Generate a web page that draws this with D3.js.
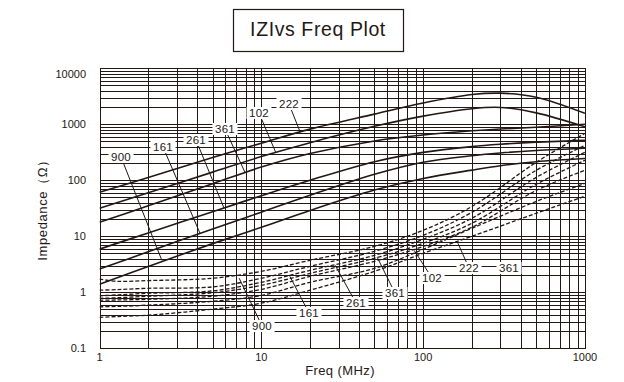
<!DOCTYPE html>
<html>
<head>
<meta charset="utf-8">
<script src="https://cdn.jsdelivr.net/npm/d3@7"></script>
<style>
  html, body { margin: 0; padding: 0; background: #fff; }
  svg { display: block; font-family: "Liberation Sans", Arial, Helvetica, sans-serif; }
</style>
</head>
<body>
<svg id="chart" width="624" height="382"></svg>
<script>
// ---- data: |Z| in ohms against frequency in MHz ----
const freqSolid = [1, 2, 5, 10, 20, 50, 100, 200, 300, 500, 1000];
const solid900 = [1.39, 2.9, 7.4, 14.5, 29, 67, 108, 152, 182, 215, 245];
const solid161 = [2.6, 5.3, 13.5, 27, 54, 128, 210, 275, 308, 340, 373];
const solid261 = [5.9, 11.5, 27.5, 53, 100, 215, 315, 400, 440, 480, 516];
const solid361 = [17.8, 35, 87, 172, 300, 505, 645, 765, 825, 885, 1000];
const solid102 = [31.6, 60, 140, 265, 470, 920, 1400, 1900, 2000, 1600, 900];
const solid222 = [61, 112, 255, 460, 820, 1520, 2400, 3400, 3600, 3050, 1570];

const freqDashed = [1, 1.3, 2, 5, 10, 20, 50, 100, 200, 500, 1000];
const dashA = [1.72, 1.57, 1.62, 1.78, 2.37, 3.73, 6.6, 12.8, 34, 210, 690];
const dashB = [1.09, 1.12, 1.18, 1.25, 1.78, 2.91, 5.4, 10.4, 26.8, 151, 422];
const dashC = [0.866, 0.9, 0.96, 1.06, 1.51, 2.47, 4.58, 8.84, 21, 113, 316];
const dashD = [0.78, 0.8, 0.85, 0.98, 1.33, 2.18, 4.05, 7.5, 17.1, 85, 228];
const dashE = [0.72, 0.73, 0.75, 0.85, 1.13, 1.93, 3.58, 6.6, 14.5, 66, 151];
const dashF = [0.55, 0.56, 0.59, 0.69, 0.88, 1.51, 2.68, 5.86, 13.9, 42, 88];
const dashG = [0.358, 0.37, 0.39, 0.50, 0.64, 1.09, 2.37, 4.97, 10, 25.8, 52];

const solidSeries = [solid900, solid161, solid261, solid361, solid102, solid222];
const dashedSeries = [dashA, dashB, dashC, dashD, dashE, dashF, dashG];

// part-number callouts: text and the [MHz, ohm] point each leader touches
const solidLabels = ["900", "161", "261", "361", "102", "222"];
const solidTargets = [[2.43, 3.7], [4.18, 11.3], [5.88, 32], [7.93, 138], [12.3, 310], [17.4, 720]];
const dashedLabels = ["900", "161", "261", "361", "102", "222", "361"];
const dashedTargets = [[7.3, 1.78], [15, 1.93], [28.6, 3.03], [52, 4.22], [88, 5.6], [164, 7.5], null];

const xTickValues = [1, 10, 100, 1000];
const xTickLabels = ["1", "10", "100", "1000"];
const yTickValues = [0.1, 1, 10, 100, 1000, 10000];
const yTickLabels = ["0.1", "1", "10", "100", "1000", "10000"];

// ---- layout ----
const ink = "#231815";
const plot = { left: 99.5, right: 585, top: 68.3, bottom: 348.3 };
// label centres (px) for the callouts, same order as the label arrays
const solidLabelPos = [[121, 157], [163, 147], [196, 140], [225, 129], [259, 113], [289, 104]];
const dashedLabelPos = [[262, 326], [309, 313], [356, 303], [395, 293], [432, 278], [469, 268], [509, 268]];

const svg = d3.select("#chart");
const x = d3.scaleLog().domain([1, 1000]).range([plot.left, plot.right]);
const y = d3.scaleLog().domain([0.1, 10000]).range([plot.bottom, plot.top]);
const px = v => Math.round(x(v)) + 0.5;
const py = v => Math.round(y(v)) + 0.5;

// title box
svg.append("rect")
  .attr("x", 233.5).attr("y", 9.5).attr("width", 170).attr("height", 42)
  .attr("fill", "none").attr("stroke", ink).attr("stroke-width", 1.2);
svg.append("text")
  .attr("x", 318).attr("y", 36)
  .attr("text-anchor", "middle").attr("font-size", 19.5).attr("fill", ink)
  .attr("letter-spacing", 0.6)
  .text("IZIvs Freq Plot");

// log grid
const gridX = [];
[1, 10, 100].forEach(d => d3.range(1, 10).forEach(k => gridX.push(k * d)));
const gridY = [];
[0.1, 1, 10, 100, 1000].forEach(d => d3.range(1, 10).forEach(k => gridY.push(+(k * d).toPrecision(3))));

const grid = svg.append("g").attr("stroke", ink).attr("stroke-width", 1).attr("shape-rendering", "crispEdges");
grid.selectAll("line.v").data(gridX.slice(1)).join("line")
  .attr("x1", d => px(d)).attr("x2", d => px(d))
  .attr("y1", py(10000)).attr("y2", py(0.1));
grid.selectAll("line.h").data(gridY.slice(1)).join("line")
  .attr("x1", px(1)).attr("x2", px(1000))
  .attr("y1", d => py(d)).attr("y2", d => py(d));
svg.append("rect")
  .attr("x", px(1)).attr("y", py(10000))
  .attr("width", px(1000) - px(1)).attr("height", py(0.1) - py(10000))
  .attr("fill", "none").attr("stroke", ink).attr("stroke-width", 1)
  .attr("shape-rendering", "crispEdges");

// tick labels
svg.append("g").selectAll("text").data(yTickValues).join("text")
  .attr("x", 86)
  .attr("y", d => Math.max(y(d), y(10000) + 5.5) + 4)
  .attr("text-anchor", "end").attr("font-size", 11).attr("fill", ink)
  .text((d, i) => yTickLabels[i]);
svg.append("g").selectAll("text").data(xTickValues).join("text")
  .attr("x", d => x(d)).attr("y", 361)
  .attr("text-anchor", "middle").attr("font-size", 11).attr("fill", ink)
  .text((d, i) => xTickLabels[i]);

// axis titles
svg.append("text")
  .attr("x", 340).attr("y", 375)
  .attr("text-anchor", "middle").attr("font-size", 13).attr("fill", ink)
  .attr("letter-spacing", 0.4)
  .text("Freq (MHz)");
svg.append("text")
  .attr("transform", "translate(47,207) rotate(-90)")
  .attr("text-anchor", "middle").attr("font-size", 13).attr("fill", ink)
  .attr("letter-spacing", 0.6)
  .text("Impedance（Ω）");

// curves
svg.append("clipPath").attr("id", "plotClip")
  .append("rect").attr("x", plot.left).attr("y", plot.top)
  .attr("width", plot.right - plot.left).attr("height", plot.bottom - plot.top);

const line = d3.line().x(d => x(d[0])).y(d => y(d[1])).curve(d3.curveCatmullRom.alpha(0.5));
const curves = svg.append("g").attr("clip-path", "url(#plotClip)").attr("fill", "none").attr("stroke", ink);

curves.selectAll("path.dashed").data(dashedSeries).join("path")
  .attr("class", "dashed")
  .attr("d", s => line(freqDashed.map((f, i) => [f, s[i]])))
  .attr("stroke-width", 1.3).attr("stroke-dasharray", "4 2");

curves.selectAll("path.solid").data(solidSeries).join("path")
  .attr("class", "solid")
  .attr("d", s => line(freqSolid.map((f, i) => [f, s[i]])))
  .attr("stroke-width", 1.6);

// callouts: leader line, white box, part number
function callout(text, pos, target) {
  const g = svg.append("g");
  if (target) {
    g.append("line")
      .attr("x1", pos[0]).attr("y1", pos[1])
      .attr("x2", x(target[0])).attr("y2", y(target[1]))
      .attr("stroke", ink).attr("stroke-width", 1);
  }
  const t = g.append("text")
    .attr("x", pos[0]).attr("y", pos[1] + 4)
    .attr("text-anchor", "middle").attr("font-size", 11.5).attr("fill", ink)
    .attr("letter-spacing", 0.3)
    .text(text);
  const b = t.node().getBBox();
  g.insert("rect", "text")
    .attr("x", b.x - 2.5).attr("y", pos[1] - 6)
    .attr("width", b.width + 5).attr("height", 12)
    .attr("fill", "#fff");
}
solidLabels.forEach((t, i) => callout(t, solidLabelPos[i], solidTargets[i]));
dashedLabels.forEach((t, i) => callout(t, dashedLabelPos[i], dashedTargets[i]));
</script>
</body>
</html>
